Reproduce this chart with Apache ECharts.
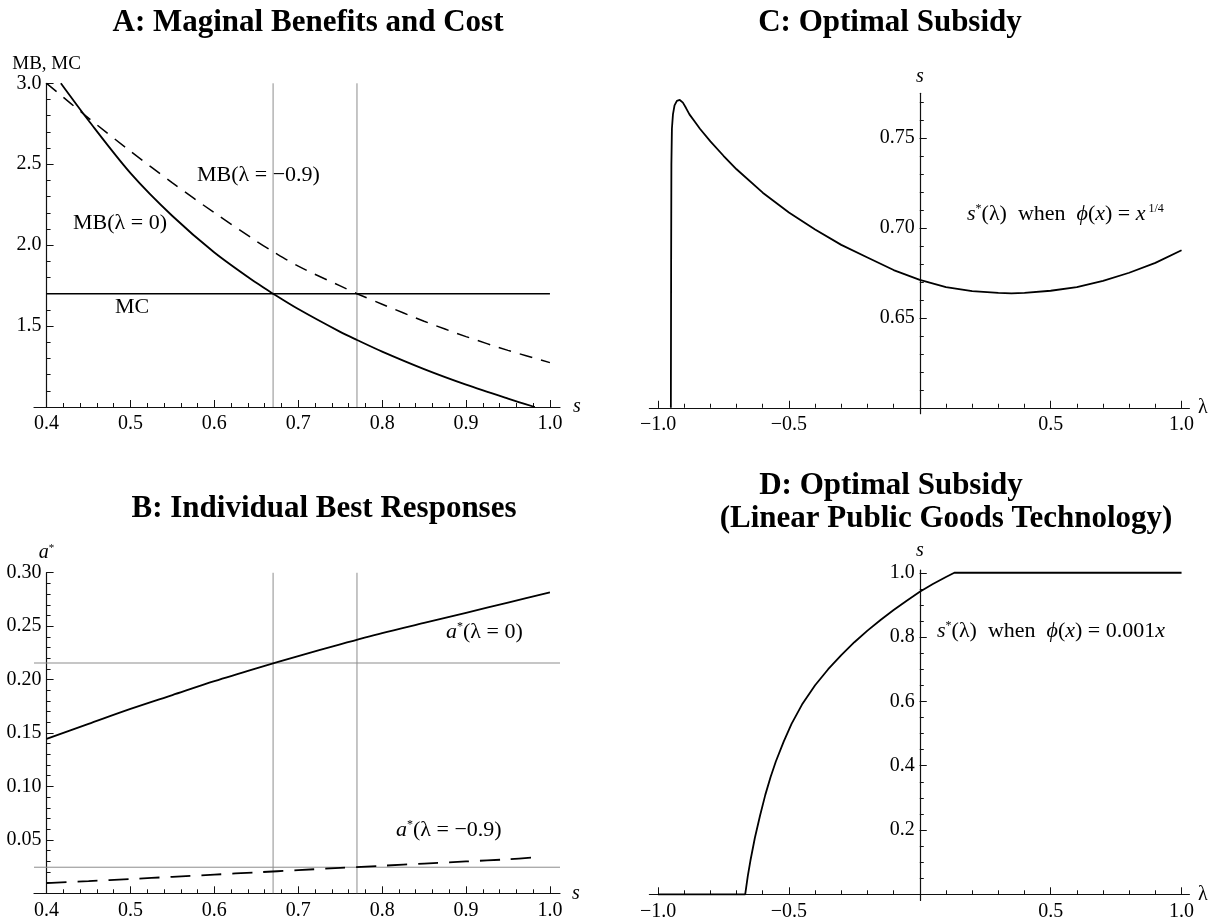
<!DOCTYPE html>
<html><head><meta charset="utf-8">
<script src="https://cdn.jsdelivr.net/npm/echarts@6/dist/echarts.min.js"></script>
<style>html,body{margin:0;padding:0;background:#fff}#chart{width:1228px;height:923px}</style>
</head><body><div id="chart"></div>
<script>
// ---------- Panel A: marginal benefits and cost ----------
const sMB0 = [0.417, 0.45, 0.5, 0.55, 0.6, 0.65, 0.67, 0.7, 0.75, 0.77, 0.8, 0.85, 0.9, 0.95, 0.982];
const mbLambda0 = [3.0, 2.77, 2.445, 2.18, 1.955, 1.767, 1.70, 1.605, 1.464, 1.414, 1.342, 1.234, 1.138, 1.052, 1.0];
const sMBm = [0.4, 0.45, 0.5, 0.55, 0.6, 0.65, 0.67, 0.7, 0.75, 0.77, 0.8, 0.85, 0.9, 0.95, 1.0];
const mbLambdaM09 = [3.0, 2.785, 2.58, 2.385, 2.2, 2.025, 1.96, 1.87, 1.748, 1.70, 1.635, 1.53, 1.435, 1.35, 1.274];
const sMC = [0.4, 1.0];
const mcValue = [1.7, 1.7];
const sStar = [0.67, 0.77];
// ---------- Panel B: individual best responses ----------
const sB = [0.4, 0.45, 0.5, 0.55, 0.6, 0.65, 0.7, 0.75, 0.8, 0.85, 0.9, 0.95, 1.0];
const aLambda0 = [0.1445, 0.1585, 0.1725, 0.1855, 0.1985, 0.2105, 0.222, 0.233, 0.2435, 0.253, 0.2625, 0.272, 0.2815];
const sBm = [0.4, 0.45, 0.5, 0.55, 0.6, 0.65, 0.7, 0.75, 0.8, 0.85, 0.9, 0.95, 0.98];
const aLambdaM09 = [0.0095, 0.0114, 0.0134, 0.0154, 0.0175, 0.0196, 0.0217, 0.0238, 0.0258, 0.0278, 0.0298, 0.0318, 0.0336];
const aStarRef = [0.2155, 0.0244];
// ---------- Panel C: optimal subsidy, phi(x)=x^(1/4) ----------
const lamC = [-0.951, -0.950, -0.949, -0.947, -0.943, -0.937, -0.928, -0.917, -0.905, -0.893, -0.88, -0.86, -0.84, -0.8, -0.75, -0.7, -0.6, -0.5, -0.4, -0.3, -0.2, -0.1, 0, 0.1, 0.2, 0.3, 0.35, 0.4, 0.5, 0.6, 0.7, 0.8, 0.9, 1.0];
const sC = [0.600, 0.680, 0.735, 0.755, 0.763, 0.768, 0.7705, 0.771, 0.7695, 0.7665, 0.763, 0.759, 0.755, 0.748, 0.740, 0.7325, 0.7195, 0.7085, 0.699, 0.6905, 0.6835, 0.6765, 0.671, 0.667, 0.6648, 0.6638, 0.6636, 0.6638, 0.665, 0.667, 0.6705, 0.675, 0.6805, 0.6875];
// ---------- Panel D: optimal subsidy, linear technology ----------
const lamD = [-1.0, -0.667, -0.657, -0.647, -0.63, -0.61, -0.59, -0.57, -0.55, -0.52, -0.49, -0.45, -0.40, -0.35, -0.30, -0.25, -0.20, -0.15, -0.10, -0.05, 0.0, 0.05, 0.10, 0.132, 1.0];
const sD = [0, 0, 0.057, 0.105, 0.176, 0.246, 0.31, 0.365, 0.413, 0.475, 0.53, 0.59, 0.65, 0.70, 0.744, 0.784, 0.82, 0.853, 0.884, 0.913, 0.941, 0.965, 0.987, 1.0, 1.0];
// ---------- tick labels ----------
const ticksAx = [0.4, 0.5, 0.6, 0.7, 0.8, 0.9, 1.0];
const ticksAy = [1.5, 2.0, 2.5, 3.0];
const ticksBy = [0.05, 0.10, 0.15, 0.20, 0.25, 0.30];
const ticksCDxMajor = [-1.0, -0.5, 0, 0.5, 1.0];
const ticksCDxLabels = [-1.0, -0.5, 0.5, 1.0];
const ticksCy = [0.65, 0.70, 0.75];
const ticksDy = [0.2, 0.4, 0.6, 0.8, 1.0];

// ---------- layout ----------
const FONT = '"Liberation Serif","Times New Roman",serif';
const GRIDS = [
  {left: 34, top: 83.3, width: 526, height: 323.7},
  {left: 34, top: 572.7, width: 526, height: 320.6},
  {left: 649.4, top: 93.3, width: 540, height: 320.4},
  {left: 649.4, top: 570.2, width: 540, height: 330.2}
];
function steps(a, b, st) { const o = []; const n = Math.round((b - a) / st); for (let i = 0; i <= n; i++) o.push(+(a + i * st).toFixed(4)); return o; }
const fmt = d => v => v.toFixed(d);
const fmtSigned = v => (v < 0 ? '\u2212' : '') + Math.abs(v).toFixed(1);

const panels = [
  {x: [0.385, 1.012], y: [1.0, 3.0], yAt: 0.4, xAt: 1.0, xMaj: ticksAx, xLab: ticksAx, xMin: steps(0.4, 1.0, 0.02), xFmt: fmt(1),
   yMaj: ticksAy, yLab: ticksAy, yMin: steps(1.0, 3.0, 0.1), yFmt: fmt(1), xName: 's', xNameStyle: {fontStyle: 'italic', padding: [8, 0, 0, 0]}, xNameGap: 13,
   yName: 'MB, MC', yNameStyle: {fontSize: 19}, yNameGap: 9},
  {x: [0.385, 1.012], y: [0, 0.30], yAt: 0.4, xAt: 0, xMaj: ticksAx, xLab: ticksAx, xMin: steps(0.4, 1.0, 0.02), xFmt: fmt(1),
   yMaj: ticksBy, yLab: ticksBy, yMin: steps(0, 0.30, 0.01), yFmt: fmt(2), xName: 's', xNameStyle: {fontStyle: 'italic', padding: [0, 0, 4, 0]}, xNameGap: 12,
   yName: '{i|a}{sup|*}', yNameStyle: {rich: {i: {fontStyle: 'italic', fontSize: 20, fontFamily: FONT, color: '#000'}, sup: {fontSize: 11, fontFamily: FONT, color: '#000', verticalAlign: 'top', lineHeight: 10}}}, yNameGap: 5},
  {x: [-1.033, 1.03], y: [0.5967, 0.7747], yAt: 0, xAt: 0.60, xMaj: ticksCDxMajor, xLab: ticksCDxLabels, xMin: steps(-1.0, 1.0, 0.1), xFmt: fmtSigned,
   yMaj: ticksCy, yLab: ticksCy, yMin: steps(0.60, 0.77, 0.01), yFmt: fmt(2), xName: '\u03bb', xNameStyle: {}, xNameGap: 7,
   yName: 's', yNameStyle: {fontStyle: 'italic'}, yNameGap: 7},
  {x: [-1.033, 1.03], y: [-0.019, 1.008], yAt: 0, xAt: 0, xMaj: ticksCDxMajor, xLab: ticksCDxLabels, xMin: steps(-1.0, 1.0, 0.1), xFmt: fmtSigned,
   yMaj: ticksDy, yLab: ticksDy, yMin: steps(0, 1.0, 0.05), yFmt: fmt(1), xName: '\u03bb', xNameStyle: {padding: [0, 0, 12, 0]}, xNameGap: 7,
   yName: 's', yNameStyle: {fontStyle: 'italic'}, yNameGap: 9}
];

const AX = {color: '#111', width: 1.2};
const xAxes = [], yAxes = [];
panels.forEach((p, gi) => {
  const g = GRIDS[gi];
  const yOff = -((p.yAt - p.x[0]) / (p.x[1] - p.x[0])) * g.width;
  const xOff = -((p.xAt - p.y[0]) / (p.y[1] - p.y[0])) * g.height;
  const labelBase = {color: '#000', fontFamily: FONT, fontSize: 20, hideOverlap: false};
  xAxes.push({type: 'value', gridIndex: gi, min: p.x[0], max: p.x[1], position: 'bottom', offset: xOff,
    axisLine: {show: true, onZero: false, lineStyle: AX},
    axisTick: {show: true, inside: true, length: 7, customValues: p.xMaj, lineStyle: {color: '#111', width: 1}},
    axisLabel: Object.assign({show: true, customValues: p.xLab, formatter: p.xFmt, margin: 7}, labelBase),
    splitLine: {show: false}, minorTick: {show: false},
    name: p.xName, nameLocation: 'end', nameGap: p.xNameGap,
    nameTextStyle: Object.assign({fontFamily: FONT, fontSize: 20, color: '#000'}, p.xNameStyle)});
  xAxes.push({type: 'value', gridIndex: gi, min: p.x[0], max: p.x[1], position: 'bottom', offset: xOff,
    axisLine: {show: false, onZero: false},
    axisTick: {show: true, inside: true, length: 4, customValues: p.xMin, lineStyle: {color: '#111', width: 1}},
    axisLabel: {show: false}, splitLine: {show: false}});
  yAxes.push({type: 'value', gridIndex: gi, min: p.y[0], max: p.y[1], position: 'left', offset: yOff,
    axisLine: {show: true, onZero: false, lineStyle: AX},
    axisTick: {show: true, inside: true, length: 7, customValues: p.yMaj, lineStyle: {color: '#111', width: 1}},
    axisLabel: Object.assign({show: true, customValues: p.yLab, formatter: p.yFmt, margin: 5}, labelBase),
    splitLine: {show: false}, minorTick: {show: false},
    name: p.yName, nameLocation: 'end', nameGap: p.yNameGap,
    nameTextStyle: Object.assign({fontFamily: FONT, fontSize: 20, color: '#000'}, p.yNameStyle)});
  yAxes.push({type: 'value', gridIndex: gi, min: p.y[0], max: p.y[1], position: 'left', offset: yOff,
    axisLine: {show: false, onZero: false},
    axisTick: {show: true, inside: true, length: 4, customValues: p.yMin, lineStyle: {color: '#111', width: 1}},
    axisLabel: {show: false}, splitLine: {show: false}});
});

const pairs = (xs, ys) => xs.map((x, i) => [x, ys[i]]);
const GRAY = {color: '#8d8d8d', width: 1};
function lineSeries(gi, data, style, z, smooth) {
  return {type: 'line', xAxisIndex: 2 * gi, yAxisIndex: 2 * gi, data, showSymbol: false, symbol: 'none',
    smooth: smooth || false, lineStyle: style, z: z, silent: true, animation: false, emphasis: {disabled: true}};
}
const series = [];
// reference lines
sStar.forEach(s => {
  series.push(lineSeries(0, [[s, panels[0].y[0]], [s, panels[0].y[1]]], GRAY, 1));
  series.push(lineSeries(1, [[s, panels[1].y[0]], [s, panels[1].y[1]]], GRAY, 1));
});
aStarRef.forEach(a => series.push(lineSeries(1, [[panels[1].x[0], a], [panels[1].x[1], a]], GRAY, 1)));
// panel A
series.push(lineSeries(0, pairs(sMC, mcValue), {color: '#000', width: 1.6}, 3));
series.push(lineSeries(0, pairs(sMB0, mbLambda0), {color: '#000', width: 1.8}, 3, 0.3));
series.push(lineSeries(0, pairs(sMBm, mbLambdaM09), {color: '#000', width: 1.5, type: [13, 9]}, 3, 0.3));
// panel B
series.push(lineSeries(1, pairs(sB, aLambda0), {color: '#000', width: 1.8}, 3, 0.3));
series.push(lineSeries(1, pairs(sBm, aLambdaM09), {color: '#000', width: 1.8, type: [20, 11]}, 3, 0.3));
// panel C
series.push(lineSeries(2, pairs(lamC, sC), {color: '#000', width: 1.8}, 3, false));
// panel D
series.push(lineSeries(3, pairs(lamD, sD), {color: '#000', width: 1.8}, 3, false));

// ---------- text ----------
function txt(text, x, y, size, opts) {
  opts = opts || {};
  const st = {text: text, fill: '#000', font: (opts.bold ? 'bold ' : '') + size + 'px ' + FONT,
    align: opts.align || 'left', verticalAlign: 'middle', textAlign: opts.align || 'left', textVerticalAlign: 'middle'};
  if (opts.rich) st.rich = opts.rich;
  return {type: 'text', x: x, y: y, style: st, silent: true, z: 20};
}
const R = {
  n: {fontSize: 22, fontFamily: FONT, fill: '#000', color: '#000'},
  i: {fontSize: 22, fontFamily: FONT, fontStyle: 'italic', fill: '#000', color: '#000'},
  sup: {fontSize: 12, fontFamily: FONT, fill: '#000', color: '#000', verticalAlign: 'top', lineHeight: 12}
};
const graphics = [
  txt('A: Maginal Benefits and Cost', 308, 23, 31, {bold: true, align: 'center'}),
  txt('B: Individual Best Responses', 324, 509, 31, {bold: true, align: 'center'}),
  txt('C: Optimal Subsidy', 890, 23, 31, {bold: true, align: 'center'}),
  txt('D: Optimal Subsidy', 891, 486, 31, {bold: true, align: 'center'}),
  txt('(Linear Public Goods Technology)', 946, 519, 31, {bold: true, align: 'center'}),
  txt('{n|MB(\u03bb = \u22120.9)}', 197, 175, 22, {rich: R}),
  txt('{n|MB(\u03bb = 0)}', 73, 223, 22, {rich: R}),
  txt('{n|MC}', 115, 307, 22, {rich: R}),
  txt('{i|a}{sup|*}{n|(\u03bb = 0)}', 446, 632, 22, {rich: R}),
  txt('{i|a}{sup|*}{n|(\u03bb = \u22120.9)}', 396, 830, 22, {rich: R}),
  txt('{i|s}{sup|*}{n|(\u03bb)  when  }{i|\u03d5}{n|(}{i|x}{n|) = }{i|x}{sup| 1/4}', 967, 214, 22, {rich: R}),
  txt('{i|s}{sup|*}{n|(\u03bb)  when  }{i|\u03d5}{n|(}{i|x}{n|) = 0.001}{i|x}', 937, 631, 22, {rich: R})
];

const chart = echarts.init(document.getElementById('chart'), null, {renderer: 'canvas'});
chart.setOption({
  animation: false,
  backgroundColor: '#fff',
  grid: GRIDS.map(g => Object.assign({containLabel: false, outerBoundsMode: 'none'}, g)),
  xAxis: xAxes,
  yAxis: yAxes,
  series: series,
  graphic: {elements: graphics}
});
</script>
</body></html>
